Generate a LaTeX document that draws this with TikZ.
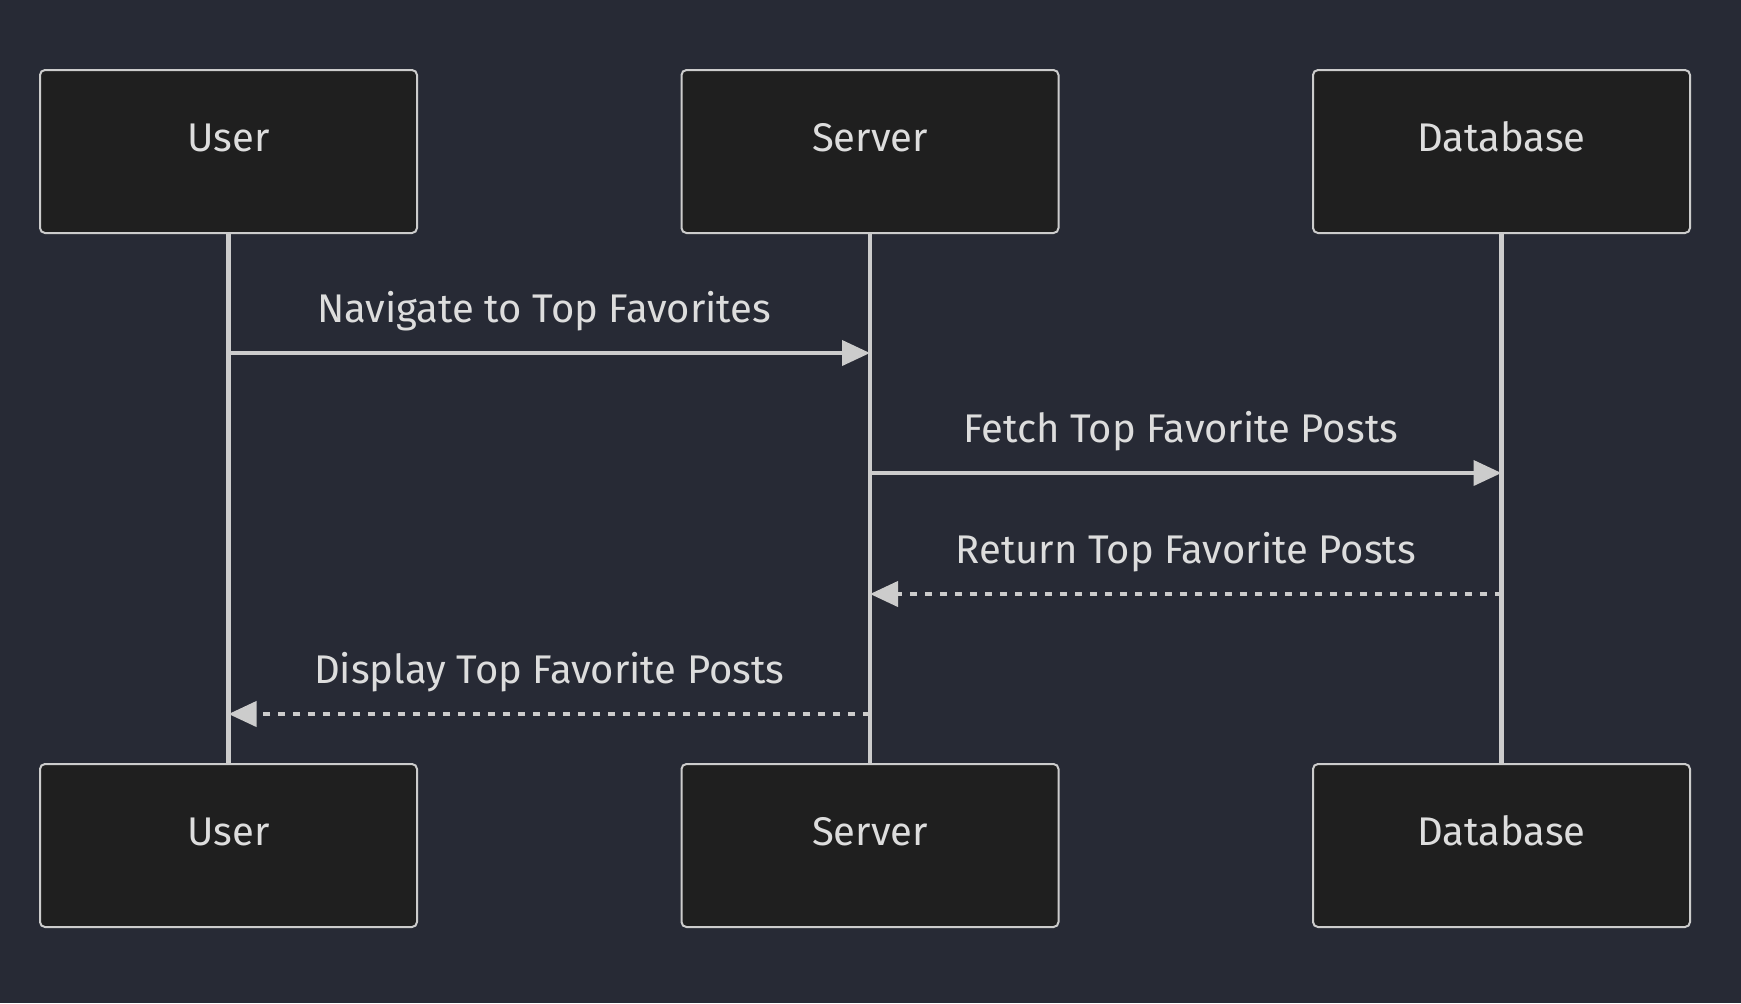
\documentclass[tikz,border=0pt]{standalone}
\usepackage{fontspec}
\setmainfont{Fira Sans}
\usetikzlibrary{arrows.meta}
\definecolor{bg-dark}{HTML}{272A35}
\definecolor{box-dark}{HTML}{1F1F1F}
\definecolor{line-grey}{HTML}{CCCCCC}
\definecolor{text-grey}{HTML}{DDDDDD}
\tikzset{
    actor-box/.style = {draw=line-grey, fill=box-dark, line width=1pt, rectangle, rounded corners=2.5pt, minimum width=188.5pt, minimum height=81.5pt, inner sep=0pt, text height=14pt, text depth=14pt, text=text-grey, font=\fontsize{20}{24}\selectfont},
    life-line/.style = {draw=line-grey, line width=2.25pt},
    msg-call/.style = {draw=line-grey, line width=2pt, -{Triangle[length=14pt, width=12.5pt]}},
    msg-reply/.style = {msg-call, dash pattern=on 3.5pt off 4pt},
    msg-label/.style = {midway, anchor=base, yshift=15.5pt, inner sep=0pt, text=text-grey, font=\fontsize{20}{24}\selectfont},
}

\begin{document}
\begin{tikzpicture}[x=0.5pt, y=-0.5pt]
\useasboundingbox [fill=bg-dark] (0,0) rectangle (1741,1003);

\node [actor-box] (user-top) at (228.5,151.5) {User};
\node [actor-box] (server-top) at (870,151.5) {Server};
\node [actor-box] (db-top) at (1501.5,151.5) {Database};
\node [actor-box] (user-bot) at (228.5,845.5) {User};
\node [actor-box] (server-bot) at (870,845.5) {Server};
\node [actor-box] (db-bot) at (1501.5,845.5) {Database};

\draw [life-line] (user-top) -- (user-bot);
\draw [life-line] (server-top) -- (server-bot);
\draw [life-line] (db-top) -- (db-bot);

% message ends on the lifelines
\coordinate (nav-from) at (user-top |- 0,353);
\coordinate (nav-to) at (server-top |- 0,353);
\coordinate (fetch-from) at (server-top |- 0,473);
\coordinate (fetch-to) at (db-top |- 0,473);
\coordinate (ret-from) at (db-top |- 0,594);
\coordinate (ret-to) at (server-top |- 0,594);
\coordinate (disp-from) at (server-top |- 0,714);
\coordinate (disp-to) at (user-top |- 0,714);

\draw [msg-call] (nav-from) -- (nav-to) node[msg-label, xshift=-2.5pt] (nav-text) {Navigate to Top Favorites};
\draw [msg-call] (fetch-from) -- (fetch-to) node[msg-label, xshift=-2.5pt] (fetch-text) {Fetch Top Favorite Posts};
\draw [msg-reply] (ret-from) -- (ret-to) node[msg-label] (ret-text) {Return Top Favorite Posts};
\draw [msg-reply] (disp-from) -- (disp-to) node[msg-label] (disp-text) {Display Top Favorite Posts};
\end{tikzpicture}
\end{document}
